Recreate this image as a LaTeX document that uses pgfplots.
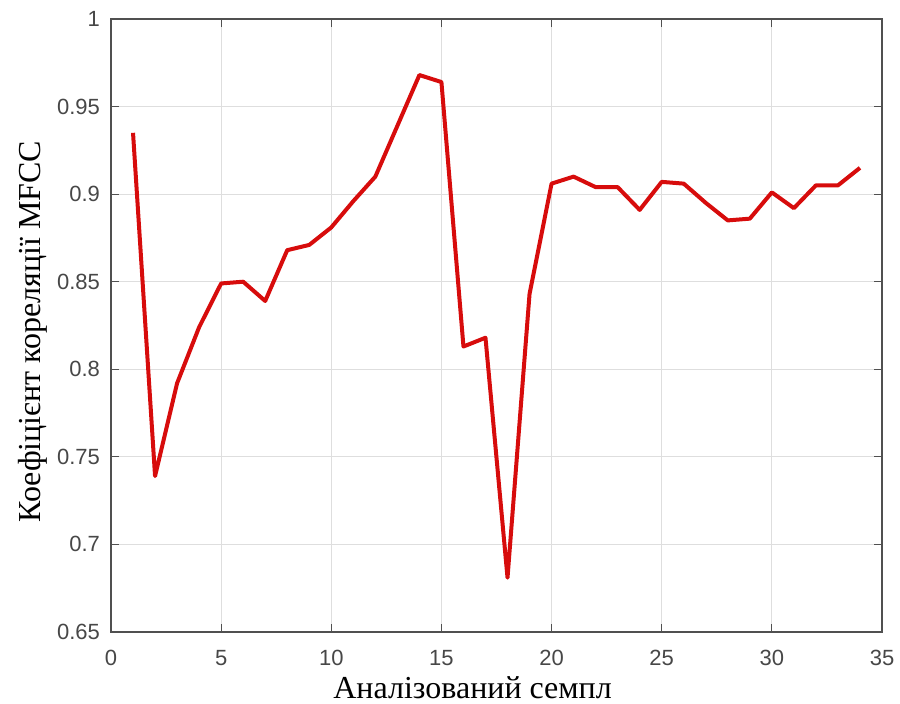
\documentclass[border=0pt]{standalone}
\usepackage{graphicx}
\usepackage{fontspec}
\setmainfont{Liberation Serif}
\newfontfamily\ticksans{Liberation Sans}
\usepackage{pgfplots}
\pgfplotsset{compat=1.18}
\definecolor{linered}{RGB}{215,12,12}
\definecolor{gridgray}{RGB}{222,222,222}
\definecolor{axgray}{RGB}{80,80,80}
\begin{document}
\begin{tikzpicture}
\path[use as bounding box] (-55.5pt,-36pt) rectangle (394.5pt,316pt);
\begin{axis}[
  at={(0,0)}, anchor=south west,
  scale only axis, width=385.5pt, height=306.5pt,
  xmin=0, xmax=35, ymin=0.65, ymax=1,
  xtick={0,5,...,35},
  ytick={0.65,0.7,0.75,0.8,0.85,0.9,0.95,1},
  grid=major,
  major grid style={gridgray, line width=0.6pt},
  axis line style={axgray, line width=0.8pt},
  tick style={axgray, line width=0.6pt},
  tick align=inside,
  major tick length=4pt,
  /pgf/number format/assume math mode=true,
  /pgf/number format/fixed,
  /pgf/number format/precision=2,
  ticklabel style={font=\ticksans\fontsize{11}{11}\selectfont, text=black!72},
  xticklabel style={yshift=-5.5pt},
  yticklabel style={xshift=-2pt},
  xlabel={Аналізований семпл},
  ylabel={Коефіцієнт кореляції MFCC},
  label style={font=\fontsize{16}{16}\selectfont},
  xlabel style={at={(axis description cs:0.469,0)}, anchor=north, inner sep=0pt, yshift=-22pt},
  ylabel style={at={(axis description cs:-0.092,0.49)}, anchor=base},
]
\addplot[linered, line width=2pt, line join=round] coordinates {
(1,0.935) (2,0.739) (3,0.792) (4,0.824) (5,0.849) (6,0.850) (7,0.839)
(8,0.868) (9,0.871) (10,0.881) (11,0.896) (12,0.910) (13,0.939) (14,0.968)
(15,0.964) (16,0.813) (17,0.818) (18,0.681) (19,0.843) (20,0.906) (21,0.910)
(22,0.904) (23,0.904) (24,0.891) (25,0.907) (26,0.906) (27,0.895) (28,0.885)
(29,0.886) (30,0.901) (31,0.892) (32,0.905) (33,0.905) (34,0.915)
};
\end{axis}
\end{tikzpicture}
\end{document}
